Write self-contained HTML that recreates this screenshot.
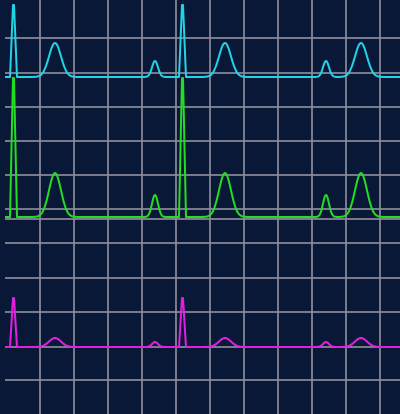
<!DOCTYPE html>
<html><head><meta charset="utf-8"><style>
html,body{margin:0;padding:0;background:#0a1838;}
svg{display:block;}
</style></head><body>
<svg id="chart" width="400" height="414" viewBox="0 0 400 414" xmlns="http://www.w3.org/2000/svg">
<rect x="0" y="0" width="400" height="414" fill="#0a1838"/>
<g id="grid"></g>
<g id="traces"></g>
</svg>
<script>
// grid positions (data units)
const gridCols = [40, 74, 108, 142, 176, 210, 244, 278, 312, 346, 380];
const gridRows = [38, 73, 107, 141, 175, 209, 219, 243, 278, 312, 347, 380];
// beat events (x positions)
const spikeXs = [13, 182];
const bigHumpXs = [55, 225, 361];
const smallHumpXs = [155, 326];
// series: baseline, spike top, big hump peak, small hump peak
const seriesNames = ["cyan-trace", "green-trace", "magenta-trace"];
const seriesColors = ["#22d3e6", "#22dd22", "#e020e0"];
const baselines = [77, 217, 347];
const spikeTops = [5, 78, 298];
const bigPeaks = [43, 173, 338];
const smallPeaks = [61, 195, 342];

const NS = "http://www.w3.org/2000/svg";
const grid = document.getElementById('grid');
gridCols.forEach(function(x){
  const l = document.createElementNS(NS,'line');
  
  
  l.setAttribute('x1',x);l.setAttribute('x2',x);l.setAttribute('y1',0);l.setAttribute('y2',414);
  l.setAttribute('stroke','#8a8c9a');l.setAttribute('stroke-width','2');l.setAttribute('opacity','0.85');
  grid.appendChild(l);
});
gridRows.forEach(function(y){
  const l = document.createElementNS(NS,'line');
  
  
  l.setAttribute('x1',5);l.setAttribute('x2',400);l.setAttribute('y1',y);l.setAttribute('y2',y);
  l.setAttribute('stroke','#8a8c9a');l.setAttribute('stroke-width','2');l.setAttribute('opacity','0.85');
  grid.appendChild(l);
});

function spikeShape(x, s){
  // triangular narrow spike, normalized 0..1
  const d = x - s;
  if (d < -3 || d > 4) return 0;
  if (d <= 0) return (d + 3) / 3;
  if (d <= 1) return 1;
  return 1 - (d - 1) / 3;
}
function gauss(x, c, sg){ return Math.exp(-((x-c)*(x-c))/(2*sg*sg)); }

const traces = document.getElementById('traces');
for (let i = 0; i < seriesNames.length; i++){
  const base = baselines[i];
  let d = '';
  for (let x = 5; x <= 400; x += 0.5){
    let y = base;
    spikeXs.forEach(function(s){ y -= (base - spikeTops[i]) * spikeShape(x, s); });
    bigHumpXs.forEach(function(c){ y -= (base - bigPeaks[i]) * gauss(x, c, 6); });
    smallHumpXs.forEach(function(c){ y -= (base - smallPeaks[i]) * gauss(x, c, 3); });
    d += (x === 5 ? 'M' : 'L') + x.toFixed(1) + ' ' + y.toFixed(1) + ' ';
  }
  const p = document.createElementNS(NS,'path');
  
  
  p.setAttribute('d', d);
  p.setAttribute('fill','none');
  p.setAttribute('stroke', seriesColors[i]);
  p.setAttribute('stroke-width','2');
  p.setAttribute('stroke-linejoin','round');
  traces.appendChild(p);
}
</script>
</body></html>
